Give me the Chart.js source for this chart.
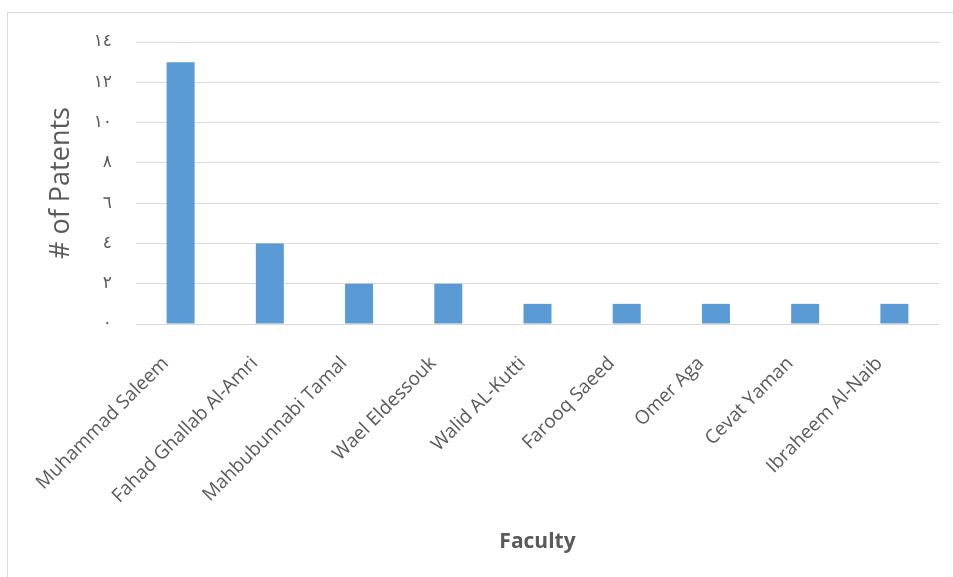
<!DOCTYPE html>
<html><head><meta charset="utf-8">
<script src="https://cdn.jsdelivr.net/npm/chart.js@4"></script>
<style>
html,body{margin:0;padding:0;background:#fff;overflow:hidden;width:953px;height:577px;}
#frame{position:absolute;left:7px;top:12px;width:980px;height:600px;border-top:1px solid #d9d9d9;border-left:1px solid #d9d9d9;}
#wrap{position:absolute;left:0;top:0;width:953px;height:577px;}
</style></head><body>
<div id="frame"></div>
<div id="wrap"><canvas id="c" width="953" height="577"></canvas></div>
<script>
const categories = ['Muhammad Saleem','Fahad Ghallab Al-Amri','Mahbubunnabi Tamal','Wael Eldessouk','Walid AL-Kutti','Farooq Saeed','Omer Aga','Cevat Yaman','Ibraheem Al-Naib'];
const patents = [13, 4, 2, 2, 1, 1, 1, 1, 1];
const yTickLabels = ['٠','٢','٤','٦','٨','١٠','١٢','١٤'];
const yTitle = '# of Patents';
const xTitle = 'Faculty';

new Chart(document.getElementById('c'), {
  type: 'bar',
  data: {
    labels: categories,
    datasets: [{
      data: patents,
      backgroundColor: '#5b9bd5',
      borderWidth: 0,
      categoryPercentage: 1,
      barPercentage: 0.314
    }]
  },
  options: {
    responsive: false,
    animation: false,
    devicePixelRatio: 1,
    layout: { padding: { left: 7, top: 42, right: 14, bottom: 10 } },
    plugins: { legend: { display: false }, tooltip: { enabled: false } },
    scales: {
      x: {
        grid: { display: false },
        border: { display: false },
        ticks: {
          minRotation: 45, maxRotation: 45, autoSkip: false,
          color: '#595959', padding: 23, labelOffset: -15,
          font: { family: 'Open Sans', size: 19, lineHeight: 0.8 }
        },
        title: {
          display: true, text: xTitle, color: '#595959',
          font: { family: 'Open Sans', size: 21, weight: 'bold' },
          padding: { top: 0, bottom: 12 }
        },
        afterFit: s => { s.height = 243; }
      },
      y: {
        min: 0, max: 14,
        grid: { color: '#d9d9d9', lineWidth: 1, drawTicks: false },
        border: { display: false },
        ticks: {
          stepSize: 2, color: '#595959', padding: 24,
          font: { family: 'DejaVu Sans', size: 17 },
          callback: v => yTickLabels[v / 2]
        },
        title: {
          display: true, text: yTitle, color: '#595959',
          font: { family: 'Open Sans', size: 27 },
          padding: { top: 38, bottom: 0 }
        },
        afterFit: s => { s.width = 129; }
      }
    }
  }
});
</script>
</body></html>
